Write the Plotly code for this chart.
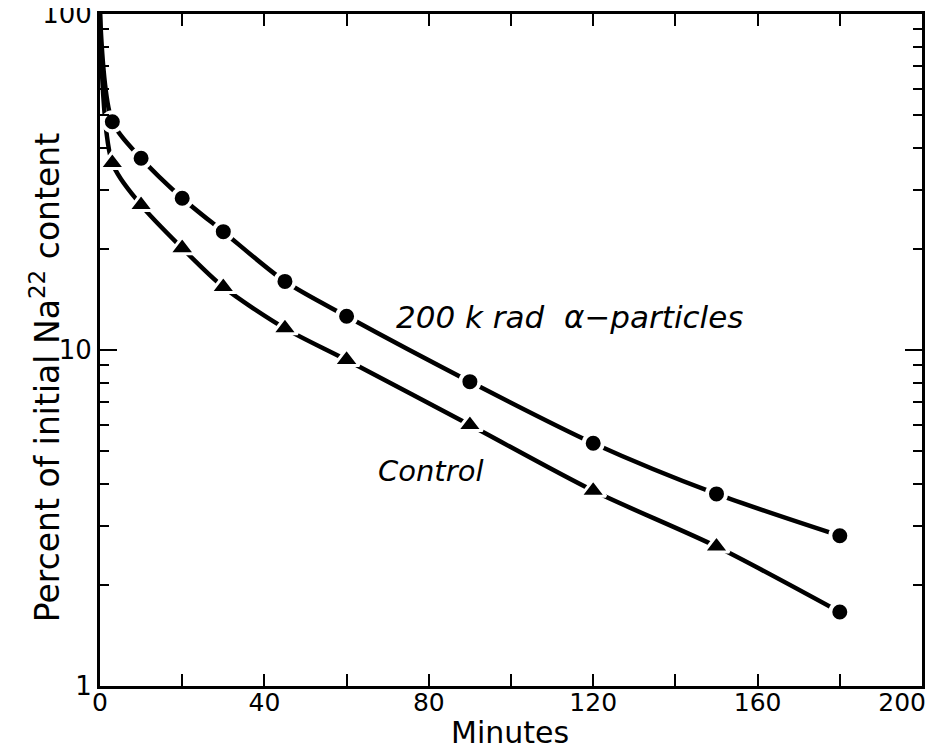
import plotly.graph_objects as go

# Data (time in minutes, percent of initial Na22 content)
minutes_alpha = [0, 3, 10, 20, 30, 45, 60, 90, 120, 150, 180]
percent_alpha = [100, 47.8, 37.2, 28.3, 22.5, 16.0, 12.6, 8.05, 5.28, 3.73, 2.80]

minutes_control = [0, 3, 10, 20, 30, 45, 60, 90, 120, 150, 180]
percent_control = [100, 36.0, 27.0, 20.1, 15.4, 11.6, 9.34, 5.98, 3.81, 2.60, 1.66]
n_triangles = 9  # control points drawn as triangles; the last one is drawn as a circle

x_tickvals = [0, 40, 80, 120, 160, 200]
x_ticktext = ["0", "40", "80", "120", "160", "200&nbsp;&nbsp;&nbsp;&nbsp;&nbsp;"]
y_tickvals = [1, 10, 100]
y_ticktext = ["1", "10", "100"]

FONT = "DejaVu Sans"

fig = go.Figure()

# smooth curves
for xs, ys in [(minutes_alpha, percent_alpha), (minutes_control, percent_control)]:
    fig.add_trace(go.Scatter(x=xs, y=ys, mode="lines",
                             line=dict(color="black", width=4.5, shape="spline", smoothing=0.8),
                             showlegend=False, hoverinfo="skip"))
# markers (white ring creates gaps in the line)
circle_marker = dict(symbol="circle", size=19, color="black", line=dict(color="white", width=4))
fig.add_trace(go.Scatter(x=minutes_alpha[1:], y=percent_alpha[1:], mode="markers",
                         marker=circle_marker, showlegend=False))
fig.add_trace(go.Scatter(x=minutes_control[1:1 + n_triangles], y=percent_control[1:1 + n_triangles],
                         mode="markers",
                         marker=dict(symbol="triangle-up", size=22, color="black",
                                     line=dict(color="white", width=3)),
                         showlegend=False))
fig.add_trace(go.Scatter(x=minutes_control[1 + n_triangles:], y=percent_control[1 + n_triangles:],
                         mode="markers", marker=circle_marker, showlegend=False))

fig.add_annotation(x=114.2, y=1.098, xref="x", yref="y", text="<i>200 k rad  α−particles</i>",
                   showarrow=False, font=dict(family=FONT, size=31, color="black"))
fig.add_annotation(x=80.5, y=0.640, xref="x", yref="y", text="<i>Control</i>", showarrow=False,
                   font=dict(family=FONT, size=29, color="black"))
# axis titles
fig.add_annotation(x=0.4988, y=-0.0699, xref="paper", yref="paper", text="Minutes",
                   showarrow=False, xanchor="center", yanchor="middle",
                   font=dict(family=FONT, size=30, color="black"))
fig.add_annotation(x=-0.0669, y=0.458, xref="paper", yref="paper",
                   text="Percent of initial Na<sup>22</sup> content", textangle=-90,
                   showarrow=False, xanchor="center", yanchor="middle",
                   font=dict(family=FONT, size=33, color="black"))

fig.update_layout(
    width=933, height=753,
    margin=dict(l=92, r=19, t=6, b=75),
    plot_bgcolor="white", paper_bgcolor="white",
    font=dict(family=FONT, color="black", size=26),
    xaxis=dict(range=[0, 200], tickmode="array", tickvals=x_tickvals, ticktext=x_ticktext,
               ticks="inside", ticklen=12, tickwidth=2, tickcolor="black",
               minor=dict(dtick=20, ticks="inside", ticklen=12, tickwidth=2, tickcolor="black"),
               showline=True, linecolor="black", linewidth=3, mirror="ticks",
               showgrid=False, zeroline=False, ticklabeloverflow="allow", automargin=False,
               ticklabelstandoff=-8, tickfont=dict(size=25)),
    yaxis=dict(type="log", range=[0, 2], tickmode="array", tickvals=y_tickvals, ticktext=y_ticktext,
               ticks="inside", ticklen=17, tickwidth=2, tickcolor="black",
               minor=dict(dtick="D1", ticks="inside", ticklen=9, tickwidth=2, tickcolor="black"),
               showline=True, linecolor="black", linewidth=3, mirror="ticks",
               showgrid=False, zeroline=False, ticklabeloverflow="allow", automargin=False,
               tickfont=dict(size=26)),
)

fig.write_html("out.html")
